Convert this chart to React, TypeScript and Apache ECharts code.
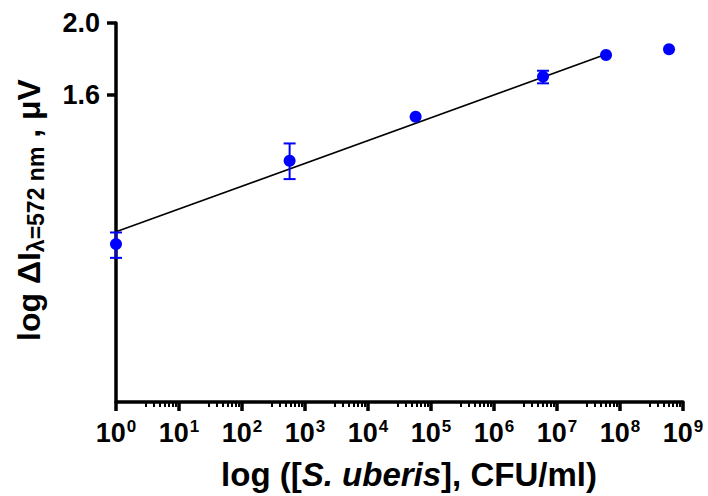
import React, { useEffect, useRef } from "react";
import * as echarts from "echarts";

// ---- data ----
const concentrationCFU = [1, 5.7e2, 5.7e4, 6.0e6, 6.0e7, 6.0e8];
const signal = [1.008, 1.305, 1.496, 1.694, 1.811, 1.844];
const errLow = [0.966, 1.233, null, 1.659, null, null];
const errHigh = [1.045, 1.377, null, 1.725, null, null];
const fitCFU = [1, 6.0e7];
const fitSignal = [1.047, 1.815];
const xExponents = [0, 1, 2, 3, 4, 5, 6, 7, 8, 9];
const minorMultipliers = [3, 4, 5, 6, 7, 8, 9];
const yTickValues = [1.6, 2.0];
const yAxisMinValue = 0.618;
const yAxisMaxValue = 2.0;

const FONT = 'Arial, "Liberation Sans", Helvetica, sans-serif';
const BLUE = "#0000FF";

const lg = (v: number) => Math.log10(v);

export default function App() {
  const ref = useRef<HTMLDivElement>(null);

  useEffect(() => {
    if (!ref.current) return;
    const chart = echarts.init(ref.current, undefined, { renderer: "svg" });

    const xMin = xExponents[0];
    const xMax = xExponents[xExponents.length - 1];
    const minorTicks: number[] = [];
    for (let e = xMin; e < xMax; e++) {
      minorMultipliers.forEach((m) => minorTicks.push(e + lg(m)));
    }

    const points = concentrationCFU.map((c, i) => [lg(c), lg(signal[i])]);
    const errData: number[][] = [];
    concentrationCFU.forEach((c, i) => {
      const lo = errLow[i];
      const hi = errHigh[i];
      if (lo != null && hi != null) errData.push([lg(c), lg(lo), lg(hi)]);
    });
    const fitData = fitCFU.map((c, i) => [lg(c), lg(fitSignal[i])]);
    const yTicks = yTickValues.map(lg);

    const option: any = {
      animation: false,
      backgroundColor: "#ffffff",
      grid: { left: 116, right: 25, top: 23, bottom: 94, containLabel: false, outerBoundsMode: "none" },
      xAxis: [
        {
          type: "value",
          min: xMin,
          max: xMax,
          interval: 1,
          axisLine: { show: true, onZero: false, lineStyle: { color: "#000", width: 3.5 } },
          axisTick: { show: true, inside: false, length: 9, lineStyle: { color: "#000", width: 3.5 } },
          splitLine: { show: false },
          axisLabel: {
            margin: 14,
            formatter: (v: number) => `{a|10}{b|${Math.round(v)}}`,
            rich: {
              a: { fontSize: 27, fontWeight: "bold", fontFamily: FONT, color: "#000", lineHeight: 30, verticalAlign: "bottom" },
              b: { fontSize: 17, fontWeight: "bold", fontFamily: FONT, color: "#000", lineHeight: 18, verticalAlign: "top", padding: [2, 0, 0, 1] },
            },
          },
        },
        {
          type: "value",
          min: xMin,
          max: xMax,
          position: "bottom",
          offset: 0,
          axisLine: { show: false, onZero: false },
          axisTick: { show: true, inside: false, length: 5, customValues: minorTicks, lineStyle: { color: "#000", width: 2 } },
          axisLabel: { show: false },
          splitLine: { show: false },
        },
      ],
      yAxis: {
        type: "value",
        min: lg(yAxisMinValue),
        max: lg(yAxisMaxValue),
        axisLine: { show: true, onZero: false, lineStyle: { color: "#000", width: 3.5 } },
        axisTick: { show: true, inside: false, length: 9, customValues: yTicks, lineStyle: { color: "#000", width: 3.5 } },
        splitLine: { show: false },
        axisLabel: {
          customValues: yTicks,
          margin: 16,
          formatter: (v: number) => Math.pow(10, v).toFixed(1),
          fontSize: 27,
          fontWeight: "bold",
          fontFamily: FONT,
          color: "#000",
        },
      },
      series: [
        {
          type: "line",
          data: fitData,
          showSymbol: false,
          symbol: "none",
          lineStyle: { color: "#000", width: 1.6 },
          z: 2,
          silent: true,
        },
        {
          type: "scatter",
          data: points,
          symbol: "circle",
          symbolSize: 12,
          itemStyle: { color: BLUE, opacity: 1 },
          clip: false,
          z: 3,
        },
        {
          type: "custom",
          data: errData,
          clip: false,
          z: 4,
          encode: { x: 0, y: [1, 2] },
          renderItem: (params: any, api: any) => {
            const x = api.value(0);
            const pLo = api.coord([x, api.value(1)]);
            const pHi = api.coord([x, api.value(2)]);
            const hw = 6;
            const style = { stroke: BLUE, lineWidth: 2 };
            return {
              type: "group",
              children: [
                { type: "line", shape: { x1: pLo[0], y1: pLo[1], x2: pHi[0], y2: pHi[1] }, style },
                { type: "line", shape: { x1: pLo[0] - hw, y1: pLo[1], x2: pLo[0] + hw, y2: pLo[1] }, style },
                { type: "line", shape: { x1: pHi[0] - hw, y1: pHi[1], x2: pHi[0] + hw, y2: pHi[1] }, style },
              ],
            };
          },
        },
      ],
      graphic: [
        {
          type: "text",
          x: 409,
          y: 474,
          style: {
            text: "{n|log ([}{i|S. uberis}{n|], CFU/ml)}",
            align: "center",
            verticalAlign: "middle",
            rich: {
              n: { fontSize: 33, fontWeight: "bold", fontFamily: FONT, fill: "#000" },
              i: { fontSize: 33, fontWeight: "bold", fontStyle: "italic", fontFamily: FONT, fill: "#000" },
            },
          },
        },
        {
          type: "text",
          x: 30,
          y: 210,
          rotation: Math.PI / 2,
          style: {
            text: "{m|log ΔI}{s|λ=572 nm}{m| , μV}",
            align: "center",
            verticalAlign: "middle",
            rich: {
              m: { fontSize: 32, fontWeight: "bold", fontFamily: FONT, fill: "#000", lineHeight: 34, verticalAlign: "top", padding: [0, 0, 8, 0] },
              s: { fontSize: 23, fontWeight: "bold", fontFamily: FONT, fill: "#000", lineHeight: 26, verticalAlign: "bottom" },
            },
          },
        },
      ],
    };

    chart.setOption(option);
    return () => chart.dispose();
  }, []);

  return (
    <div
      ref={ref}
      style={{ position: "fixed", left: 0, top: 0, width: 708, height: 496, background: "#fff" }}
    />
  );
}
